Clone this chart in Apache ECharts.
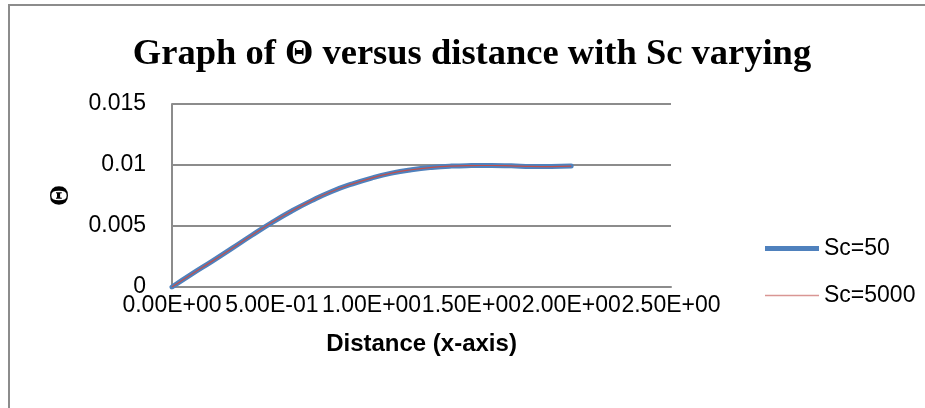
<!DOCTYPE html>
<html>
<head>
<meta charset="utf-8">
<script src="https://cdn.jsdelivr.net/npm/echarts@6/dist/echarts.min.js"></script>
<style>html,body{margin:0;padding:0;background:#fff;}#c{width:925px;height:408px;}</style>
</head>
<body>
<div id="c"></div>
<script>
const distance = [0, 0.1, 0.2, 0.3, 0.4, 0.5, 0.6, 0.7, 0.8, 0.9, 1.0, 1.1, 1.2, 1.3, 1.4, 1.5, 1.6, 1.7, 1.8, 1.9, 2.0];
const thetaSc50 = [0, 0.00107, 0.00210, 0.00316, 0.00424, 0.00528, 0.00623, 0.00708, 0.00783, 0.00843, 0.00893, 0.00933, 0.00961, 0.00980, 0.00991, 0.00995, 0.00996, 0.00993, 0.00988, 0.00987, 0.00991];
const thetaSc5000 = [0, 0.00107, 0.00210, 0.00316, 0.00424, 0.00528, 0.00623, 0.00708, 0.00783, 0.00843, 0.00893, 0.00933, 0.00961, 0.00980, 0.00991, 0.00995, 0.00996, 0.00993, 0.00988, 0.00987, 0.00991];
const seriesNames = ['Sc=50', 'Sc=5000'];
const titleText = 'Graph of \u0398 versus distance with Sc varying';
const xAxisTitle = 'Distance (x-axis)';
const yAxisTitle = '\u0398';

function sci(v) {
  if (v === 0) return '0.00E+00';
  let e = Math.floor(Math.log10(Math.abs(v)) + 1e-9);
  let m = v / Math.pow(10, e);
  let es = (e < 0 ? '-' : '+') + String(Math.abs(e)).padStart(2, '0');
  return m.toFixed(2) + 'E' + es;
}

const chart = echarts.init(document.getElementById('c'), null, {renderer: 'canvas'});
const labelFont = 'Liberation Sans';
chart.setOption({
  backgroundColor: '#fff',
  animation: false,
  title: {
    text: titleText,
    left: 467, top: 31, textAlign: 'center',
    textStyle: {fontFamily: 'Liberation Serif', fontWeight: 'bold', fontSize: 36.5, color: '#000'}
  },
  graphic: [{
    type: 'rect', shape: {x: 9, y: 5, width: 1000, height: 500},
    style: {fill: 'none', stroke: '#8c8c8c', lineWidth: 2}, silent: true
  }],
  grid: {left: 172, right: 254, top: 104, bottom: 121, containLabel: false},
  legend: {
    orient: 'vertical', left: 760, top: 232, itemGap: 24, itemWidth: 54, itemHeight: 10,
    textStyle: {fontFamily: labelFont, fontSize: 23, color: '#000'},
    data: [
      {name: seriesNames[0], icon: 'path://M0,0 L54,0 L54,5 L0,5 Z', itemStyle: {color: '#4f81bd'}},
      {name: seriesNames[1], icon: 'path://M0,0 L54,0 L54,1.6 L0,1.6 Z', itemStyle: {color: '#d99694'}}
    ]
  },
  xAxis: {
    type: 'value', min: 0, max: 2.5, interval: 0.5,
    name: xAxisTitle, nameLocation: 'middle', nameGap: 45,
    nameTextStyle: {fontFamily: labelFont, fontWeight: 'bold', fontSize: 24, color: '#000'},
    axisLine: {show: true, lineStyle: {color: '#8c8c8c', width: 2}},
    axisTick: {show: false},
    splitLine: {show: false},
    axisLabel: {formatter: sci, fontFamily: labelFont, fontSize: 23, color: '#000', margin: 7, hideOverlap: false}
  },
  yAxis: {
    type: 'value', min: 0, max: 0.015, interval: 0.005,
    name: yAxisTitle, nameLocation: 'middle', nameGap: 97, nameRotate: 90,
    nameTextStyle: {fontFamily: 'Liberation Serif', fontWeight: 'bold', fontSize: 27, color: '#000'},
    axisLine: {show: true, lineStyle: {color: '#8c8c8c', width: 2}},
    axisTick: {show: false},
    splitLine: {show: true, lineStyle: {color: '#8c8c8c', width: 2}},
    axisLabel: {formatter: v => String(+v.toFixed(3)), fontFamily: labelFont, fontSize: 23, color: '#000', margin: 26}
  },
  series: [
    {
      name: seriesNames[0], type: 'line', smooth: true, showSymbol: false, symbol: 'none',
      data: distance.map((x, i) => [x, thetaSc50[i]]),
      lineStyle: {color: '#4f81bd', width: 5, cap: 'round'}, itemStyle: {color: '#4f81bd'}
    },
    {
      name: seriesNames[1], type: 'line', smooth: true, showSymbol: false, symbol: 'none',
      data: distance.map((x, i) => [x, thetaSc5000[i]]),
      lineStyle: {color: '#c0504d', width: 1.2}, itemStyle: {color: '#d99694'}
    }
  ]
});
</script>
</body>
</html>
